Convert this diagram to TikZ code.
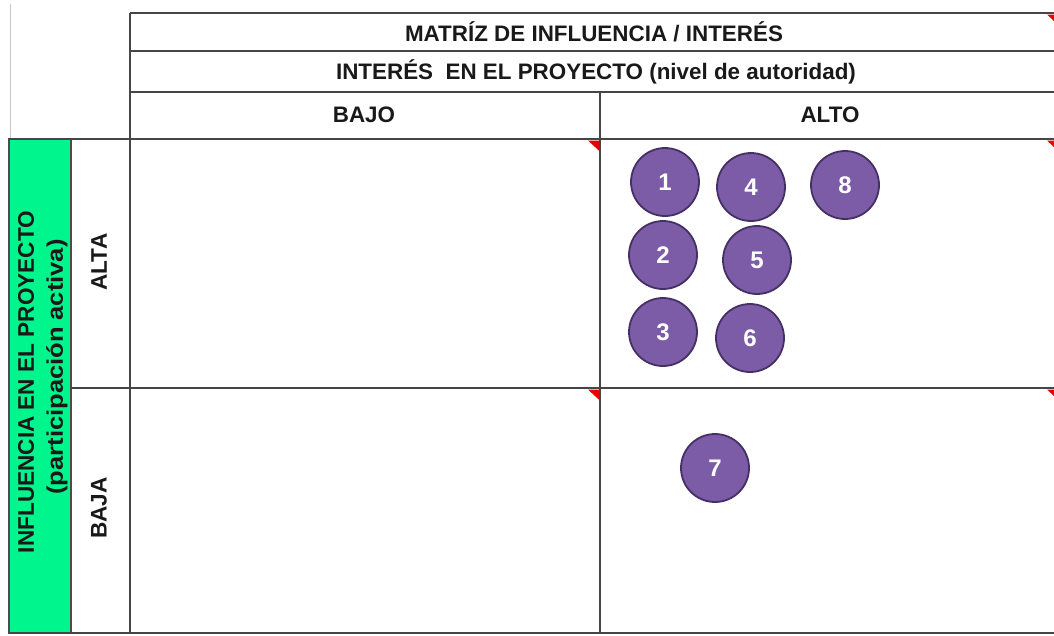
\documentclass[tikz,border=0pt]{standalone}
\usepackage{fontspec}
\setmainfont{Liberation Sans}
\definecolor{gridline}{RGB}{70,70,70}
\definecolor{paleline}{RGB}{200,200,200}
\definecolor{sidegreen}{RGB}{0,245,140}
\definecolor{dotfill}{RGB}{124,92,166}
\definecolor{dotedge}{RGB}{68,48,100}
\definecolor{flag}{RGB}{230,0,0}
\begin{document}
\begin{tikzpicture}[x=1pt,y=-1pt,
  grid/.style={draw=gridline,line width=1.3pt},
  hdr/.style={font=\bfseries\fontsize{22.4}{26}\selectfont,inner sep=0pt,text=black!90},
  side/.style={font=\bfseries\fontsize{22.6}{27}\selectfont,inner sep=0pt,rotate=90,text=black!90},
  dot/.style={circle,minimum size=68pt,inner sep=0pt,fill=dotfill,draw=dotedge,line width=1.8pt,
    text=white,font=\bfseries\fontsize{24}{26}\selectfont},
  flagmark/.style={fill=flag,draw=none}]
\useasboundingbox (0,0) rectangle (1054,635);
% faint top-left line
\draw[paleline,line width=1pt] (10,4) -- (10,139);
% green side column
\fill[sidegreen] (9,139) rectangle (71,633);
\draw[draw=black!70,line width=1.2pt] (9,139) rectangle (71,633);
% grid
\draw[grid] (130,13) -- (1054,13);
\draw[grid] (130,51) -- (1054,51);
\draw[grid] (130,92) -- (1054,92);
\draw[grid] (9,139) -- (1054,139);
\draw[grid] (71,388) -- (1054,388);
\draw[grid] (9,633) -- (1054,633);
\draw[grid] (130,13) -- (130,633);
\draw[grid] (600,92) -- (600,633);
% comment flags
\fill[flagmark] (588,140.5) -- (599.3,140.5) -- (599.3,151) -- cycle;
\fill[flagmark] (588,389.5) -- (599.3,389.5) -- (599.3,400) -- cycle;
\fill[flagmark] (1047,140.5) -- (1054,140.5) -- (1054,147) -- cycle;
\fill[flagmark] (1047,389.5) -- (1054,389.5) -- (1054,396) -- cycle;
\fill[flagmark] (1047,14.5) -- (1054,14.5) -- (1054,21) -- cycle;
% header texts
\node[hdr] (title) at (594,32) {MATRÍZ DE INFLUENCIA / INTERÉS};
\node[hdr] (interes) at (596,72) {INTERÉS\ \ EN EL PROYECTO (nivel de autoridad)};
\node[hdr] (bajo) at (364,115) {BAJO};
\node[hdr] (alto) at (830,115) {ALTO};
% side texts
\node[side] (infl1) at (26,382) {INFLUENCIA EN EL PROYECTO};
\node[side] (infl2) at (57,367) {\scalebox{1.13}[1]{(participación activa)}};
\node[side] (alta) at (99,262) {ALTA};
\node[side] (baja) at (99,508) {BAJA};
% stakeholders
\node[dot] (s1) at (665,182) {1};
\node[dot] (s4) at (751,187) {4};
\node[dot] (s8) at (845,185) {8};
\node[dot] (s2) at (663,255) {2};
\node[dot] (s5) at (757,260) {5};
\node[dot] (s3) at (663,332) {3};
\node[dot] (s6) at (750,338) {6};
\node[dot] (s7) at (715,468) {7};
\end{tikzpicture}
\end{document}
